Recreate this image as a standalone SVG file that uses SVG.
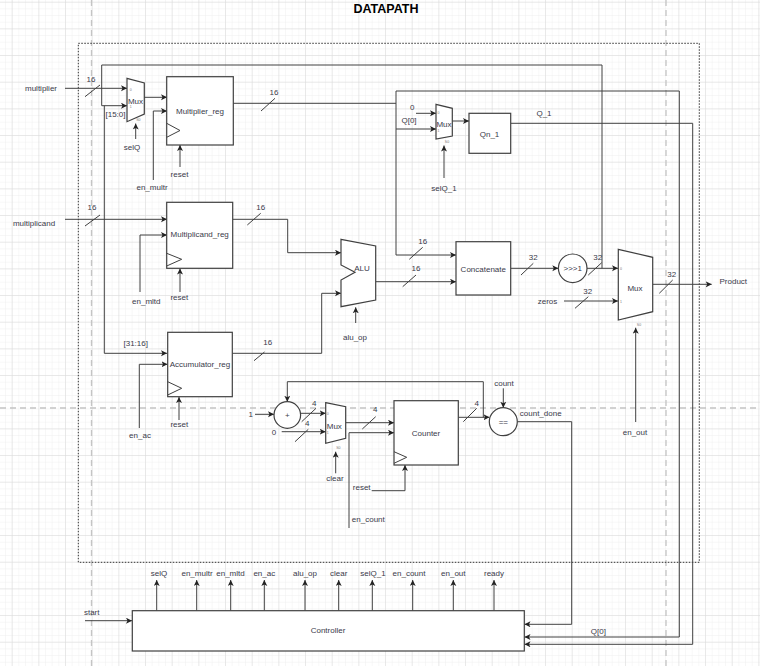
<svg xmlns="http://www.w3.org/2000/svg" width="760" height="666" viewBox="0 0 760 666">
<defs>
<pattern id="minor" patternUnits="userSpaceOnUse" x="5" y="1.7" width="6.667" height="6.667">
<path d="M0,0 H6.667 M0,0 V6.667" fill="none" stroke="#f0f0f0" stroke-width="1"/>
</pattern>
<pattern id="major" patternUnits="userSpaceOnUse" x="11.7" y="1.7" width="26.667" height="26.667">
<path d="M0,0 H26.667 M0,0 V26.667" fill="none" stroke="#dadada" stroke-width="1"/>
</pattern>
<marker id="ar" markerUnits="userSpaceOnUse" markerWidth="8" markerHeight="8" refX="6" refY="3" orient="auto">
<path d="M0,0 L6,3 L0,6 L1.5,3 z" fill="#222"/>
</marker>
<style>
.w{fill:none;stroke:#404040;stroke-width:1}
.a{marker-end:url(#ar)}
.b{fill:#fff;stroke:#404040;stroke-width:1.2}
.t{font-family:"Liberation Sans",Arial,sans-serif;font-size:8px;fill:#3a3a4a;text-anchor:middle}
.s{font-family:"Liberation Sans",Arial,sans-serif;font-size:3.5px;fill:#777;text-anchor:middle}
.sl{stroke:#404040;stroke-width:1}
</style>
</defs>
<rect width="760" height="666" fill="#fff"/>
<rect width="760" height="666" fill="url(#minor)"/>
<rect width="760" height="666" fill="url(#major)"/>
<g id="pagebreaks" stroke="#c4c4c4" stroke-width="1.3" stroke-dasharray="6,4" fill="none">
<path d="M91.5,0 V666"/>
<path d="M666,0 V666"/>
<path d="M0,408 H760"/>
</g>
<g id="datapath">
<rect x="78.3" y="43.3" width="621" height="519" fill="none" stroke="#333" stroke-width="1" stroke-dasharray="1.5,1.5"/>
<text x="386" y="13" style="font-family:'Liberation Sans',Arial,sans-serif;font-size:12.5px;font-weight:bold;fill:#000;text-anchor:middle">DATAPATH</text>
</g>
<g id="connectors">
<path class="w a" d="M65,88.3 H127"/>
<path class="w a" d="M602,268.3 V65 H101.7 V105.7 H127"/>
<path class="w a" d="M104.3,105.7 V353.3 H167"/>
<path class="w a" d="M587,268.3 H618"/>
<path class="w a" d="M144,97.3 H167"/>
<path class="w a" d="M153.3,180 V111 H167"/>
<path class="w a" d="M135.7,139 V123.5"/>
<path class="w a" d="M180,167 V145"/>
<path class="w" d="M233,103.3 H396"/>
<path class="w a" d="M396,91 V255 H456"/>
<path class="w a" d="M396,91 H679.3 V637 H524.5"/>
<path class="w a" d="M396,129 H436"/>
<path class="w a" d="M416,113.3 H436"/>
<path class="w a" d="M452,121 H469"/>
<path class="w a" d="M444,178 V145.5"/>
<path class="w a" d="M511,123.3 H692.7 V644.3 H524.5"/>
<path class="w a" d="M65,219.3 H167"/>
<path class="w a" d="M140,292 V235 H167"/>
<path class="w a" d="M180,292 V268.5"/>
<path class="w a" d="M233,219.3 H287.7 V252.7 H341"/>
<path class="w a" d="M232.3,353.3 H321.7 V293.3 H341"/>
<path class="w a" d="M376,281.7 H456"/>
<path class="w a" d="M355.7,323 V307.3"/>
<path class="w a" d="M511,268.3 H558.3"/>
<path class="w a" d="M564,301 H618"/>
<path class="w a" d="M652.7,284.3 H711.7"/>
<path class="w a" d="M635.7,422 V327.7"/>
<path class="w a" d="M139.3,428 V364.3 H167.5"/>
<path class="w a" d="M179,420 V397"/>
<path class="w a" d="M255,414.3 H274"/>
<path class="w a" d="M483.3,417.3 V381.7 H287.3 V401.7"/>
<path class="w a" d="M458.3,417.3 H489.5"/>
<path class="w a" d="M300.7,413.3 H325.7"/>
<path class="w a" d="M281.7,431.7 H325.7"/>
<path class="w a" d="M345.7,422.7 H394"/>
<path class="w a" d="M335.7,473.3 V451.7"/>
<path class="w a" d="M349,528 V432.7 H394"/>
<path class="w a" d="M371.7,490.7 H405 V465"/>
<path class="w a" d="M503.3,388.3 V407.7"/>
<path class="w a" d="M517.3,421.7 H571.7 V624.3 H524.5"/>
<path class="w a" d="M85,620.7 H132"/>
<path class="w a" d="M156.7,610.7 V580"/>
<path class="w a" d="M196.7,610.7 V580"/>
<path class="w a" d="M230.7,610.7 V580"/>
<path class="w a" d="M264.3,610.7 V580"/>
<path class="w a" d="M305,610.7 V580"/>
<path class="w a" d="M338.7,610.7 V580"/>
<path class="w a" d="M372.3,610.7 V580"/>
<path class="w a" d="M412.7,610.7 V580"/>
<path class="w a" d="M453.3,610.7 V580"/>
<path class="w a" d="M494,610.7 V580"/>
<g id="bus-slashes" class="sl">
<path d="M85,96.7 L100,85"/>
<path d="M85,226 L100,215"/>
<path d="M261,111 L275,98.3"/>
<path d="M247.3,225 L260.7,213.3"/>
<path d="M254,360.7 L264.5,352"/>
<path d="M409.3,259.3 L422.7,247.3"/>
<path d="M402.7,286.7 L416,275"/>
<path d="M521,275 L533.3,263.3"/>
<path d="M588.3,275 L601.7,262.7"/>
<path d="M575,308.3 L588.3,296.7"/>
<path d="M659.3,293.3 L672.7,280"/>
<path d="M301.7,421.7 L316,408.3"/>
<path d="M295,441.7 L308.3,429.3"/>
<path d="M362.3,429 L375.7,416.7"/>
<path d="M463.3,421.7 L476.7,408.3"/>
</g>
<g id="connector-labels">
<text class="t" x="91" y="81.5">16</text>
<text class="t" x="92" y="209.5">16</text>
<text class="t" x="274" y="95">16</text>
<text class="t" x="260.7" y="209.5">16</text>
<text class="t" x="267.7" y="345">16</text>
<text class="t" x="422.7" y="244">16</text>
<text class="t" x="416" y="271">16</text>
<text class="t" x="533.3" y="259.5">32</text>
<text class="t" x="597.7" y="259.5">32</text>
<text class="t" x="587.7" y="294">32</text>
<text class="t" x="671.7" y="277">32</text>
<text class="t" x="314.3" y="406">4</text>
<text class="t" x="307.3" y="426">4</text>
<text class="t" x="375.3" y="412">4</text>
<text class="t" x="476.7" y="406">4</text>
<text class="t" x="41" y="91">multiplier</text>
<text class="t" x="34" y="225.5">multiplicand</text>
<text class="t" x="115.5" y="117">[15:0]</text>
<text class="t" x="132" y="150">selQ</text>
<text class="t" x="152" y="189.5">en_multr</text>
<text class="t" x="179.5" y="177">reset</text>
<text class="t" x="146.3" y="304">en_mltd</text>
<text class="t" x="179.3" y="299.5">reset</text>
<text class="t" x="135.7" y="346">[31:16]</text>
<text class="t" x="179.3" y="427">reset</text>
<text class="t" x="140" y="438">en_ac</text>
<text class="t" x="412.3" y="109.5">0</text>
<text class="t" x="409" y="123">Q[0]</text>
<text class="t" x="444" y="190.5">selQ_1</text>
<text class="t" x="544" y="115.5">Q_1</text>
<text class="t" x="355" y="339.5">alu_op</text>
<text class="t" x="547.5" y="304">zeros</text>
<text class="t" x="733.3" y="284">Product</text>
<text class="t" x="635" y="435">en_out</text>
<text class="t" x="250.7" y="417">1</text>
<text class="t" x="274" y="434.5">0</text>
<text class="t" x="335" y="481">clear</text>
<text class="t" x="361.7" y="489.5">reset</text>
<text class="t" x="368.3" y="522">en_count</text>
<text class="t" x="504" y="385.5">count</text>
<text class="t" x="540.7" y="415.5">count_done</text>
<text class="t" x="91.7" y="615">start</text>
<text class="t" x="598.3" y="633.5">Q[0]</text>
<text class="t" x="159" y="576">selQ</text>
<text class="t" x="197" y="576">en_multr</text>
<text class="t" x="230.5" y="576">en_mltd</text>
<text class="t" x="264.3" y="576">en_ac</text>
<text class="t" x="305" y="576">alu_op</text>
<text class="t" x="338.7" y="576">clear</text>
<text class="t" x="373" y="576">selQ_1</text>
<text class="t" x="409" y="576">en_count</text>
<text class="t" x="453.3" y="576">en_out</text>
<text class="t" x="494" y="576">ready</text>
</g>
</g>
<g id="mux1">
<polygon class="b" points="127,78.3 144.3,83 144.3,114 127,121.7"/>
<text class="t" x="135.5" y="103.5">Mux</text>
<text class="s" x="130.7" y="90.5">0</text>
<text class="s" x="130.7" y="108">1</text>
<text class="s" x="138.3" y="121.3">S0</text>
</g>
<g id="multiplier_reg">
<rect class="b" x="166.7" y="76.7" width="66.6" height="68.3"/>
<polyline class="w" points="166.7,123.3 180,130.5 166.7,137.3"/>
<text class="t" x="200" y="114">Multiplier_reg</text>
</g>
<g id="mux2">
<polygon class="b" points="436,104.3 452.3,108.3 452.3,136 436,139"/>
<text class="t" x="444" y="126.5">Mux</text>
<text class="s" x="438.5" y="132">1</text>
<text class="s" x="438.5" y="114.3">0</text>
<text class="s" x="447" y="143">S0</text>
</g>
<g id="qn_1">
<rect class="b" x="469" y="113.3" width="41.7" height="40"/>
<text class="t" x="489.5" y="137">Qn_1</text>
</g>
<g id="multiplicand_reg">
<rect class="b" x="166.7" y="202.3" width="66" height="66"/>
<polyline class="w" points="166.7,253.3 181.7,259.3 166.7,266"/>
<text class="t" x="199.7" y="237">Multiplicand_reg</text>
</g>
<g id="alu">
<polygon class="b" points="341,239.3 375.7,246 375.7,300 341,306.7 341,280 355,272.3 341,265"/>
<text class="t" x="362" y="271">ALU</text>
</g>
<g id="concatenate">
<rect class="b" x="456" y="241.7" width="54.7" height="53.3"/>
<text class="t" x="483.3" y="271.5">Concatenate</text>
</g>
<g id="shifter">
<circle class="b" cx="572.7" cy="268.3" r="14.3"/>
<text class="t" x="572.7" y="271">&gt;&gt;&gt;1</text>
</g>
<g id="mux3">
<polygon class="b" points="618.3,249.3 652.7,257.3 652.7,311.7 618.3,320"/>
<text class="t" x="635" y="291">Mux</text>
<text class="s" x="621" y="269.5">0</text>
<text class="s" x="621" y="303">1</text>
<text class="s" x="639" y="325.5">S0</text>
</g>
<g id="accumulator_reg">
<rect class="b" x="167.7" y="332.3" width="64.6" height="64.4"/>
<polyline class="w" points="167.7,381.7 181.7,388.3 167.7,395"/>
<text class="t" x="200" y="367">Accumulator_reg</text>
</g>
<g id="adder">
<circle class="b" cx="287.3" cy="415" r="13.3"/>
<text class="t" x="287.3" y="418">+</text>
</g>
<g id="mux4">
<polygon class="b" points="325.7,402.7 345.7,406.7 345.7,438.3 325.7,443.3"/>
<text class="t" x="334.3" y="429">Mux</text>
<text class="s" x="327.7" y="414.5">0</text>
<text class="s" x="327.7" y="434">1</text>
<text class="s" x="338.3" y="449">S0</text>
</g>
<g id="counter">
<rect class="b" x="394" y="400.7" width="64.3" height="64.3"/>
<polyline class="w" points="394,451.7 406.7,457.3 394,463.3"/>
<text class="t" x="426" y="436">Counter</text>
</g>
<g id="comparator">
<circle class="b" cx="503.3" cy="421.7" r="14"/>
<text class="t" x="503.3" y="424.5">==</text>
</g>
<g id="controller">
<rect class="b" x="132.3" y="610.7" width="392" height="40.3"/>
<text class="t" x="328" y="633">Controller</text>
</g>
</svg>
